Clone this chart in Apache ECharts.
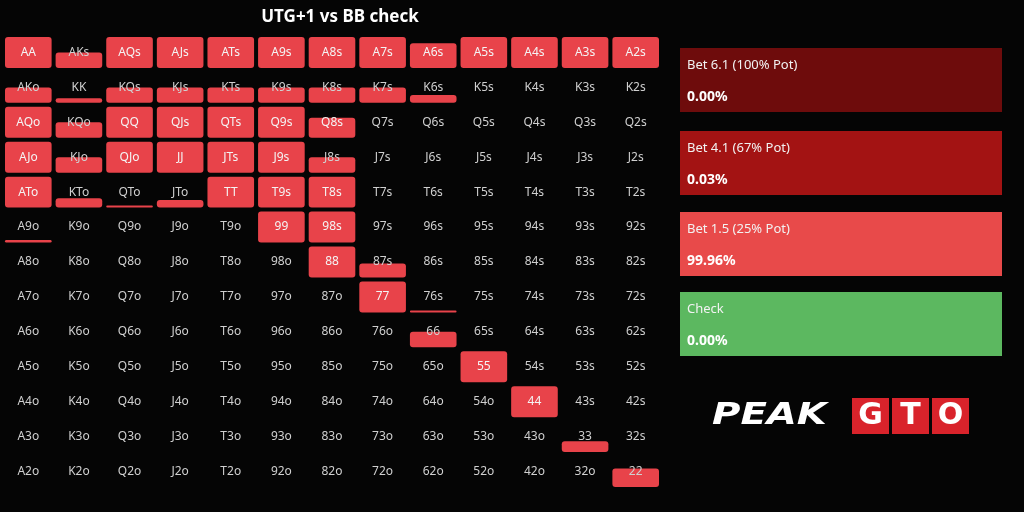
<!DOCTYPE html>
<html lang="en">
<head>
<meta charset="UTF-8" />
<title>UTG+1 vs BB check</title>
<script src="https://cdn.jsdelivr.net/npm/echarts@6/dist/echarts.min.js"></script>
<style>body{margin:0;background:#050505}</style>
</head>
<body>
<div id="main" style="width:1024px;height:512px"></div>
<script>
const ranks = ["A","K","Q","J","T","9","8","7","6","5","4","3","2"];
// bet frequency per cell (row = first rank, col = second rank), 0..1
const freqA = [1, 0.5, 1, 1, 1, 1, 1, 1, 0.8, 1, 1, 1, 1];
const freqK = [0.5, 0.15, 0.5, 0.5, 0.5, 0.5, 0.5, 0.5, 0.25, 0, 0, 0, 0];
const freqQ = [1, 0.5, 1, 1, 1, 1, 0.65, 0, 0, 0, 0, 0, 0];
const freqJ = [1, 0.5, 1, 1, 1, 1, 0.5, 0, 0, 0, 0, 0, 0];
const freqT = [1, 0.3, 0.05, 0.25, 1, 1, 1, 0, 0, 0, 0, 0, 0];
const freq9 = [0.08, 0, 0, 0, 0, 1, 1, 0, 0, 0, 0, 0, 0];
const freq8 = [0, 0, 0, 0, 0, 0, 1, 0.45, 0, 0, 0, 0, 0];
const freq7 = [0, 0, 0, 0, 0, 0, 0, 1, 0.05, 0, 0, 0, 0];
const freq6 = [0, 0, 0, 0, 0, 0, 0, 0, 0.5, 0, 0, 0, 0];
const freq5 = [0, 0, 0, 0, 0, 0, 0, 0, 0, 1, 0, 0, 0];
const freq4 = [0, 0, 0, 0, 0, 0, 0, 0, 0, 0, 1, 0, 0];
const freq3 = [0, 0, 0, 0, 0, 0, 0, 0, 0, 0, 0, 0.35, 0];
const freq2 = [0, 0, 0, 0, 0, 0, 0, 0, 0, 0, 0, 0, 0.6];
const rows = [freqA, freqK, freqQ, freqJ, freqT, freq9, freq8, freq7, freq6, freq5, freq4, freq3, freq2];

const actionNames = ["Bet 6.1 (100% Pot)", "Bet 4.1 (67% Pot)", "Bet 1.5 (25% Pot)", "Check"];
const actionValues = ["0.00%", "0.03%", "99.96%", "0.00%"];
const actionColors = ["#6e0c0c", "#a31313", "#e84a4a", "#5cb860"];
const actionTops = [48, 131, 212, 292];

function handName(r, c) {
  if (r === c) return ranks[r] + ranks[c];
  if (c > r) return ranks[r] + ranks[c] + "s";
  return ranks[c] + ranks[r] + "o";
}

const data = [];
rows.forEach((row, r) => row.forEach((f, c) => data.push([c, r, f, handName(r, c)])));

const graphics = [];
actionNames.forEach((name, i) => {
  const top = actionTops[i];
  graphics.push({ type: "rect", shape: { x: 680, y: top, width: 322, height: 64 }, style: { fill: actionColors[i] } });
  graphics.push({ type: "text", x: 687, y: top + 11, style: { text: name, fill: "#f2f2f2", font: "13px 'Noto Sans'" } });
  graphics.push({ type: "text", x: 687, y: top + 42, style: { text: actionValues[i], fill: "#ffffff", font: "bold 14px 'Noto Sans'" } });
});
// logo
graphics.push({ type: "text", x: 712, y: 400, scaleX: 1.25, style: { text: "PEAK", fill: "#ffffff", font: "italic 900 31px 'DejaVu Sans'" } });
["G", "T", "O"].forEach((ch, i) => {
  const x = 852 + i * 40;
  graphics.push({ type: "rect", shape: { x: x, y: 398, width: 37, height: 36 }, style: { fill: "#d9232b" } });
  graphics.push({ type: "text", x: x + 18.5, y: 416, style: { text: ch, fill: "#ffffff", font: "900 30px 'DejaVu Sans'", align: "center", verticalAlign: "middle" } });
});

const chart = echarts.init(document.getElementById("main"));
chart.setOption({
  backgroundColor: "#050505",
  title: { text: "UTG+1 vs BB check", left: 335, top: 4, textAlign: "center",
    textStyle: { color: "#ffffff", fontSize: 17, fontWeight: "bold", fontFamily: "Noto Sans" } },
  grid: { left: 3, top: 35, width: 658, height: 454 },
  xAxis: { type: "category", data: ranks, show: false },
  yAxis: { type: "category", data: ranks, inverse: true, show: false },
  series: [{
    type: "custom",
    data: data,
    renderItem: function (params, api) {
      const p = api.coord([api.value(0), api.value(1)]);
      const s = api.size([1, 1]);
      const f = api.value(2);
      const w = s[0] - 4, h = s[1] - 4;
      const x0 = p[0] - w / 2, y1 = p[1] + h / 2;
      const fh = h * f;
      const children = [];
      if (f > 0) {
        children.push({ type: "rect", shape: { x: x0, y: y1 - Math.max(fh, 2), width: w, height: Math.max(fh, 2), r: 3 },
          style: { fill: "#e8434a" } });
      }
      children.push({ type: "text", style: { text: data[params.dataIndex][3], x: p[0], y: p[1],
        align: "center", verticalAlign: "middle", fill: f > 0.6 ? "#f4f4f4" : "#d0d0d0", font: "12px 'Noto Sans'" } });
      return { type: "group", children: children };
    }
  }],
  graphic: graphics
});
</script>
</body>
</html>
